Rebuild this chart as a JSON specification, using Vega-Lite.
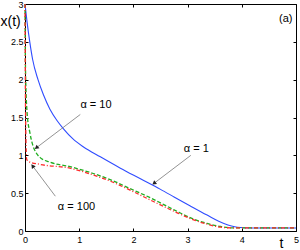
{
  "$schema": "https://vega.github.io/schema/vega-lite/v6.json",
  "width": 271,
  "height": 227,
  "autosize": {"type": "none"},
  "padding": {"left": 25, "top": 4, "right": 4, "bottom": 19},
  "background": "white",
  "config": {
    "font": "Liberation Sans",
    "view": {"stroke": "black", "strokeWidth": 1},
    "axis": {"grid": false, "domain": false, "labelFontSize": 9, "labelColor": "black", "tickColor": "black", "tickSize": -3, "labelFlush": false, "labelOverlap": false, "titleFontWeight": "normal", "titleColor": "black"}
  },
  "datasets": {
    "curves": [
      {"alpha": "1", "t": 0, "x": 3},
      {"alpha": "1", "t": 0.04, "x": 2.75},
      {"alpha": "1", "t": 0.09, "x": 2.49},
      {"alpha": "1", "t": 0.14, "x": 2.27},
      {"alpha": "1", "t": 0.24, "x": 2.0},
      {"alpha": "1", "t": 0.34, "x": 1.8},
      {"alpha": "1", "t": 0.46, "x": 1.61},
      {"alpha": "1", "t": 0.59, "x": 1.46},
      {"alpha": "1", "t": 0.71, "x": 1.35},
      {"alpha": "1", "t": 0.88, "x": 1.22},
      {"alpha": "1", "t": 1.08, "x": 1.11},
      {"alpha": "1", "t": 1.39, "x": 0.98},
      {"alpha": "1", "t": 1.76, "x": 0.83},
      {"alpha": "1", "t": 2.13, "x": 0.69},
      {"alpha": "1", "t": 2.5, "x": 0.55},
      {"alpha": "1", "t": 2.75, "x": 0.45},
      {"alpha": "1", "t": 3.05, "x": 0.33},
      {"alpha": "1", "t": 3.36, "x": 0.21},
      {"alpha": "1", "t": 3.67, "x": 0.1},
      {"alpha": "1", "t": 3.92, "x": 0.05},
      {"alpha": "1", "t": 4.15, "x": 0.04},
      {"alpha": "1", "t": 5, "x": 0.04},
      {"alpha": "10", "t": 0, "x": 3},
      {"alpha": "10", "t": 0.01, "x": 2.1},
      {"alpha": "10", "t": 0.04, "x": 1.55},
      {"alpha": "10", "t": 0.09, "x": 1.3},
      {"alpha": "10", "t": 0.15, "x": 1.12},
      {"alpha": "10", "t": 0.2, "x": 1.04},
      {"alpha": "10", "t": 0.28, "x": 0.97},
      {"alpha": "10", "t": 0.46, "x": 0.91},
      {"alpha": "10", "t": 0.83, "x": 0.85},
      {"alpha": "10", "t": 1.26, "x": 0.76},
      {"alpha": "10", "t": 1.57, "x": 0.68},
      {"alpha": "10", "t": 1.94, "x": 0.56},
      {"alpha": "10", "t": 2.31, "x": 0.44},
      {"alpha": "10", "t": 2.75, "x": 0.28},
      {"alpha": "10", "t": 3.1, "x": 0.16},
      {"alpha": "10", "t": 3.36, "x": 0.1},
      {"alpha": "10", "t": 3.61, "x": 0.06},
      {"alpha": "10", "t": 3.85, "x": 0.04},
      {"alpha": "10", "t": 5, "x": 0.04},
      {"alpha": "100", "t": 0, "x": 3},
      {"alpha": "100", "t": 0.01, "x": 1.6},
      {"alpha": "100", "t": 0.03, "x": 0.95},
      {"alpha": "100", "t": 0.06, "x": 0.92},
      {"alpha": "100", "t": 0.28, "x": 0.88},
      {"alpha": "100", "t": 0.83, "x": 0.83},
      {"alpha": "100", "t": 1.26, "x": 0.74},
      {"alpha": "100", "t": 1.57, "x": 0.66},
      {"alpha": "100", "t": 1.94, "x": 0.54},
      {"alpha": "100", "t": 2.31, "x": 0.41},
      {"alpha": "100", "t": 2.75, "x": 0.26},
      {"alpha": "100", "t": 3.1, "x": 0.15},
      {"alpha": "100", "t": 3.36, "x": 0.09},
      {"alpha": "100", "t": 3.61, "x": 0.05},
      {"alpha": "100", "t": 3.85, "x": 0.04},
      {"alpha": "100", "t": 5, "x": 0.04}
    ],
    "labels": [
      {"t": 1.31, "x": 1.66, "text": "α = 10"},
      {"t": 0.95, "x": 0.32, "text": "α = 100"},
      {"t": 3.16, "x": 1.09, "text": "α = 1"},
      {"t": 4.81, "x": 2.8, "text": "(a)"}
    ],
    "arrows": [
      {"id": "10", "t": 1.02, "x": 1.54, "t2": 0.21, "x2": 1.1},
      {"id": "100", "t": 0.56, "x": 0.46, "t2": 0.14, "x2": 0.86},
      {"id": "1", "t": 3.06, "x": 1.0, "t2": 2.38, "x2": 0.63}
    ]
  },
  "resolve": {"axis": {"x": "independent", "y": "independent"}},
  "layer": [
    {
      "data": {"name": "curves"},
      "transform": [{"filter": "datum.alpha == '1'"}],
      "mark": {"type": "line", "color": "#2f4cff", "strokeWidth": 1.1, "interpolate": "monotone"},
      "encoding": {
        "x": {"field": "t", "type": "quantitative", "scale": {"domain": [0, 5], "nice": false, "zero": false},
              "axis": {"values": [0, 1, 2, 3, 4, 5], "format": "~g", "labelPadding": 7, "title": "t", "titleFontSize": 14, "titleX": 256, "titleY": 16, "titleBaseline": "alphabetic", "titleAlign": "center"}},
        "y": {"field": "x", "type": "quantitative", "scale": {"domain": [0, 3], "nice": false, "zero": false},
              "axis": {"values": [0, 0.5, 1, 1.5, 2, 2.5, 3], "format": "~g", "labelPadding": 5, "title": "x(t)", "titleFontSize": 14, "titleAngle": 0, "titleAlign": "left", "titleBaseline": "alphabetic", "titleX": -25, "titleY": 21}}
      }
    },
    {
      "data": {"name": "curves"},
      "transform": [{"filter": "datum.alpha == '10'"}],
      "mark": {"type": "line", "color": "#1fae1f", "strokeWidth": 1.3, "strokeDash": [4, 2], "interpolate": "monotone"},
      "encoding": {
        "x": {"field": "t", "type": "quantitative", "axis": {"orient": "top", "values": [0, 1, 2, 3, 4, 5], "labels": false, "title": null}},
        "y": {"field": "x", "type": "quantitative", "axis": {"orient": "right", "values": [0, 0.5, 1, 1.5, 2, 2.5, 3], "labels": false, "title": null}}
      }
    },
    {
      "data": {"name": "curves"},
      "transform": [{"filter": "datum.alpha == '100'"}],
      "mark": {"type": "line", "color": "#ff2a2a", "strokeWidth": 1.3, "strokeDash": [4, 2, 1, 2], "interpolate": "monotone"},
      "encoding": {
        "x": {"field": "t", "type": "quantitative", "axis": null},
        "y": {"field": "x", "type": "quantitative", "axis": null}
      }
    },
    {
      "data": {"name": "arrows"},
      "mark": {"type": "rule", "color": "#777777", "strokeWidth": 0.8},
      "encoding": {
        "x": {"field": "t", "type": "quantitative", "axis": null},
        "y": {"field": "x", "type": "quantitative", "axis": null},
        "x2": {"field": "t2"},
        "y2": {"field": "x2"}
      }
    },
    {
      "data": {"name": "arrows"},
      "transform": [{"filter": "datum.id == '10'"}],
      "mark": {"type": "point", "shape": "triangle-up", "filled": true, "color": "#222222", "size": 22, "angle": 232, "opacity": 1},
      "encoding": {
        "x": {"field": "t2", "type": "quantitative", "axis": null},
        "y": {"field": "x2", "type": "quantitative", "axis": null}
      }
    },
    {
      "data": {"name": "arrows"},
      "transform": [{"filter": "datum.id == '100'"}],
      "mark": {"type": "point", "shape": "triangle-up", "filled": true, "color": "#222222", "size": 22, "angle": 323, "opacity": 1},
      "encoding": {
        "x": {"field": "t2", "type": "quantitative", "axis": null},
        "y": {"field": "x2", "type": "quantitative", "axis": null}
      }
    },
    {
      "data": {"name": "arrows"},
      "transform": [{"filter": "datum.id == '1'"}],
      "mark": {"type": "point", "shape": "triangle-up", "filled": true, "color": "#222222", "size": 22, "angle": 232, "opacity": 1},
      "encoding": {
        "x": {"field": "t2", "type": "quantitative", "axis": null},
        "y": {"field": "x2", "type": "quantitative", "axis": null}
      }
    },
    {
      "data": {"name": "labels"},
      "mark": {"type": "text", "fontSize": 11, "color": "black", "align": "center", "baseline": "middle"},
      "encoding": {
        "x": {"field": "t", "type": "quantitative", "axis": null},
        "y": {"field": "x", "type": "quantitative", "axis": null},
        "text": {"field": "text"}
      }
    }
  ]
}
